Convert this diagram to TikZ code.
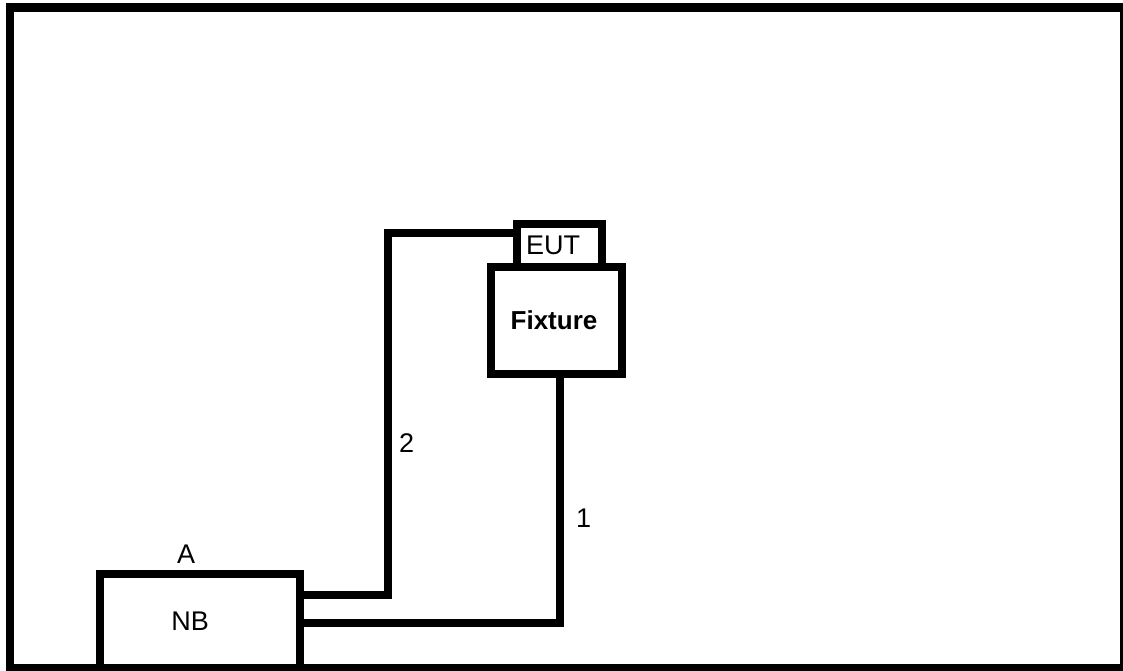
\documentclass[tikz,border=0pt]{standalone}
\usepackage{fontspec}
\setmainfont{Liberation Sans}
\usepackage{tikz}
\usetikzlibrary{positioning}
\tikzset{
  box/.style={rectangle, draw, line width=8pt, outer sep=0pt, align=center,
              font=\fontsize{27}{30}\selectfont},
  wire/.style={line width=8pt},
  lbl/.style={inner sep=2pt, font=\fontsize{27}{30}\selectfont},
}
\begin{document}
\begin{tikzpicture}[x=1pt, y=-1pt]
  \useasboundingbox (0,0) rectangle (1123,670);
  \draw[line width=8.5pt] (10,7.5) rectangle (1124,668);
  \node[box, minimum width=200, minimum height=94] (nb) at (200.25,621) {\hspace*{-20pt}NB};
  \node[lbl, above=8pt of nb, xshift=-14pt] (a) {A};
  \node[box, minimum width=131, minimum height=107,
        font=\fontsize{26}{30}\selectfont\bfseries] (fix) at (556.5,320.5) {\hspace*{-5pt}Fixture};
  \node[box, minimum width=85, minimum height=43, above=0pt of fix, xshift=3pt] (eut) {\hspace*{-13pt}EUT};
  \coordinate (k2) at (388,595);
  \draw[wire] ([yshift=26pt]nb.east) -- (k2) |- node[lbl, pos=0.21, right=5pt]{2} ([yshift=13pt]eut.west);
  \draw[wire] ([yshift=-2pt]nb.east) -| node[lbl, pos=0.71, right=10pt]{1} ([xshift=3.5pt]fix.south);
\end{tikzpicture}
\end{document}
